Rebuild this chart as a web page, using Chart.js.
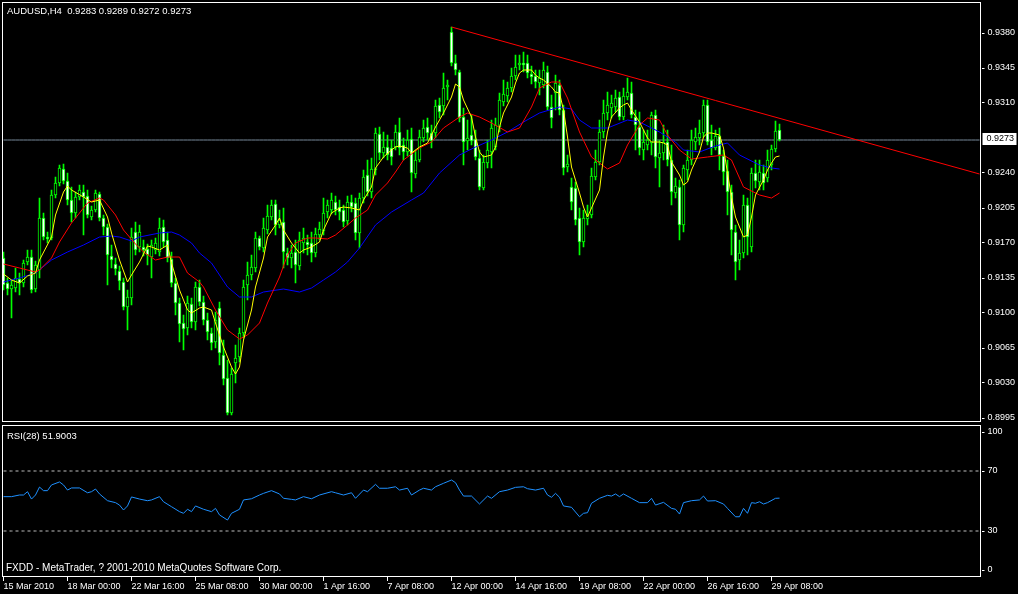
<!DOCTYPE html>
<html>
<head>
<meta charset="utf-8">
<script src="https://cdn.jsdelivr.net/npm/chart.js@4.4.1/dist/chart.umd.min.js"></script>
<style>
  html,body{margin:0;padding:0;background:#000;}
  #wrap{position:relative;width:1018px;height:594px;overflow:hidden;background:#000;
        font:10px "Liberation Sans",Arial,sans-serif;color:#fff}
  #priceCv{position:absolute;left:0;top:0}
  #rsiCv{position:absolute;left:0;top:422px}
  .lbl{position:absolute;left:7px;white-space:pre;line-height:12px}
</style>
</head>
<body>
<div id="wrap">
  <canvas id="priceCv" width="1018" height="424"></canvas>
  <canvas id="rsiCv" width="1018" height="172"></canvas>
  <div class="lbl" id="head" style="top:5px;font-size:9.5px"></div>
  <div class="lbl" id="rsiHead" style="top:430px;font-size:9.5px"></div>
  <div class="lbl" style="top:562px;left:6px">FXDD - MetaTrader, ? 2001-2010 MetaQuotes Software Corp.</div>
</div>
<script>
const symbol = 'AUDUSD,H4';
const slotCount = 245;     // 195 H4 bars + empty room on the right
const labelEvery = 16;     // bars between time labels
const timeLabels = ['15 Mar 2010','18 Mar 00:00','22 Mar 16:00','25 Mar 08:00','30 Mar 00:00',
  '1 Apr 16:00','7 Apr 08:00','12 Apr 00:00','14 Apr 16:00','19 Apr 08:00','22 Apr 00:00',
  '26 Apr 16:00','29 Apr 08:00'];
const priceTicks = [0.8995,0.9030,0.9065,0.9100,0.9135,0.9170,0.9205,0.9240,0.9310,0.9345,0.9380];

const opens = [
0.9155,0.9130,0.9124,0.9125,0.9134,0.9130,0.9151,0.9156,0.9124,0.9143,
0.9195,0.9176,0.9175,0.9218,0.9230,0.9244,0.9232,0.9213,0.9200,0.9216,
0.9221,0.9217,0.9196,0.9203,0.9219,0.9195,0.9186,0.9157,0.9149,0.9142,
0.9131,0.9106,0.9115,0.9181,0.9166,0.9166,0.9164,0.9156,0.9163,0.9161,
0.9186,0.9173,0.9154,0.9130,0.9110,0.9090,0.9085,0.9109,0.9091,0.9126,
0.9111,0.9093,0.9080,0.9071,0.9105,0.9058,0.9035,0.9000,0.9050,0.9056,
0.9080,0.9128,0.9138,0.9145,0.9175,0.9165,0.9183,0.9196,0.9209,0.9188,
0.9191,0.9160,0.9155,0.9161,0.9147,0.9170,0.9171,0.9170,0.9160,0.9178,
0.9182,0.9201,0.9203,0.9211,0.9206,0.9203,0.9192,0.9211,0.9210,0.9180,
0.9215,0.9238,0.9221,0.9243,0.9279,0.9260,0.9266,0.9265,0.9266,0.9281,
0.9268,0.9261,0.9274,0.9239,0.9253,0.9275,0.9286,0.9280,0.9280,0.9308,
0.9307,0.9326,0.9381,0.9350,0.9341,0.9296,0.9272,0.9278,0.9274,0.9255,
0.9225,0.9250,0.9261,0.9266,0.9286,0.9311,0.9317,0.9325,0.9337,0.9348,
0.9350,0.9350,0.9339,0.9337,0.9330,0.9328,0.9341,0.9306,0.9320,0.9328,
0.9303,0.9246,0.9226,0.9225,0.9195,0.9171,0.9194,0.9198,0.9236,0.9251,
0.9281,0.9300,0.9305,0.9306,0.9316,0.9296,0.9316,0.9320,0.9296,0.9286,
0.9263,0.9268,0.9270,0.9298,0.9255,0.9260,0.9271,0.9253,0.9220,0.9226,
0.9188,0.9243,0.9253,0.9271,0.9275,0.9280,0.9308,0.9273,0.9265,0.9277,
0.9257,0.9242,0.9221,0.9181,0.9153,0.9160,0.9208,0.9166,0.9240,0.9231,
0.9240,0.9235,0.9248,0.9264,0.9283];
const highs = [
0.9161,0.9135,0.9133,0.9145,0.9140,0.9153,0.9163,0.9163,0.9152,0.9215,
0.9200,0.9181,0.9223,0.9236,0.9248,0.9249,0.9240,0.9226,0.9221,0.9228,
0.9228,0.9223,0.9207,0.9223,0.9221,0.9198,0.9189,0.9168,0.9155,0.9147,
0.9135,0.9123,0.9185,0.9191,0.9188,0.9173,0.9169,0.9173,0.9175,0.9195,
0.9193,0.9181,0.9161,0.9135,0.9115,0.9098,0.9117,0.9115,0.9131,0.9133,
0.9117,0.9100,0.9085,0.9101,0.9111,0.9073,0.9053,0.9045,0.9068,0.9085,
0.9133,0.9151,0.9158,0.9181,0.9177,0.9195,0.9208,0.9213,0.9213,0.9203,
0.9205,0.9165,0.9168,0.9173,0.9181,0.9185,0.9178,0.9181,0.9185,0.9191,
0.9215,0.9213,0.9220,0.9217,0.9213,0.9208,0.9217,0.9218,0.9215,0.9220,
0.9243,0.9253,0.9255,0.9285,0.9286,0.9281,0.9278,0.9273,0.9288,0.9295,
0.9275,0.9283,0.9285,0.9263,0.9283,0.9293,0.9295,0.9288,0.9313,0.9315,
0.9340,0.9333,0.9386,0.9358,0.9343,0.9305,0.9293,0.9298,0.9283,0.9263,
0.9258,0.9273,0.9293,0.9295,0.9320,0.9333,0.9331,0.9345,0.9358,0.9358,
0.9361,0.9358,0.9347,0.9343,0.9343,0.9351,0.9347,0.9318,0.9338,0.9333,
0.9308,0.9258,0.9235,0.9231,0.9205,0.9203,0.9208,0.9245,0.9263,0.9293,
0.9313,0.9321,0.9318,0.9323,0.9321,0.9325,0.9335,0.9331,0.9303,0.9301,
0.9283,0.9283,0.9301,0.9303,0.9273,0.9288,0.9283,0.9268,0.9235,0.9233,
0.9248,0.9263,0.9283,0.9285,0.9293,0.9313,0.9313,0.9288,0.9283,0.9285,
0.9263,0.9253,0.9228,0.9188,0.9173,0.9218,0.9215,0.9245,0.9253,0.9253,
0.9248,0.9263,0.9268,0.9292,0.9289];
const lows = [
0.9123,0.9118,0.9095,0.9121,0.9118,0.9126,0.9148,0.9120,0.9121,0.9135,
0.9173,0.9170,0.9173,0.9215,0.9227,0.9229,0.9208,0.9191,0.9195,0.9213,
0.9178,0.9195,0.9193,0.9201,0.9192,0.9178,0.9128,0.9145,0.9138,0.9123,
0.9103,0.9083,0.9108,0.9158,0.9161,0.9157,0.9148,0.9135,0.9159,0.9157,
0.9166,0.9151,0.9126,0.9098,0.9071,0.9063,0.9078,0.9085,0.9083,0.9107,
0.9088,0.9073,0.9063,0.9065,0.9048,0.9028,0.8998,0.8998,0.9030,0.9051,
0.9075,0.9113,0.9133,0.9141,0.9163,0.9161,0.9179,0.9193,0.9178,0.9185,
0.9145,0.9148,0.9145,0.9130,0.9143,0.9160,0.9158,0.9151,0.9156,0.9173,
0.9178,0.9195,0.9199,0.9198,0.9193,0.9186,0.9188,0.9201,0.9173,0.9165,
0.9210,0.9217,0.9215,0.9238,0.9253,0.9255,0.9253,0.9248,0.9263,0.9258,
0.9253,0.9257,0.9221,0.9235,0.9251,0.9271,0.9273,0.9265,0.9275,0.9295,
0.9298,0.9313,0.9347,0.9338,0.9291,0.9248,0.9263,0.9268,0.9253,0.9223,
0.9223,0.9245,0.9245,0.9263,0.9281,0.9307,0.9311,0.9321,0.9333,0.9343,
0.9341,0.9335,0.9329,0.9325,0.9318,0.9325,0.9303,0.9285,0.9303,0.9298,
0.9238,0.9241,0.9203,0.9188,0.9158,0.9166,0.9188,0.9195,0.9233,0.9248,
0.9275,0.9293,0.9295,0.9301,0.9293,0.9293,0.9313,0.9295,0.9263,0.9258,
0.9253,0.9263,0.9258,0.9245,0.9226,0.9253,0.9247,0.9208,0.9215,0.9173,
0.9181,0.9233,0.9248,0.9263,0.9268,0.9276,0.9268,0.9258,0.9263,0.9243,
0.9228,0.9198,0.9158,0.9133,0.9143,0.9155,0.9158,0.9161,0.9225,0.9223,
0.9223,0.9231,0.9243,0.9261,0.9272];
const closes = [
0.9128,0.9124,0.9128,0.9135,0.9130,0.9150,0.9156,0.9123,0.9148,0.9195,
0.9176,0.9174,0.9218,0.9230,0.9245,0.9232,0.9213,0.9200,0.9216,0.9223,
0.9216,0.9198,0.9203,0.9220,0.9195,0.9186,0.9158,0.9153,0.9144,0.9132,
0.9106,0.9116,0.9176,0.9163,0.9181,0.9163,0.9158,0.9168,0.9170,0.9185,
0.9171,0.9155,0.9130,0.9110,0.9089,0.9084,0.9110,0.9091,0.9126,0.9111,
0.9093,0.9081,0.9070,0.9093,0.9060,0.9034,0.9000,0.9039,0.9055,0.9080,
0.9126,0.9138,0.9146,0.9175,0.9166,0.9185,0.9197,0.9208,0.9188,0.9193,
0.9161,0.9155,0.9160,0.9148,0.9173,0.9175,0.9168,0.9160,0.9179,0.9184,
0.9200,0.9208,0.9213,0.9203,0.9201,0.9191,0.9211,0.9206,0.9180,0.9215,
0.9236,0.9221,0.9244,0.9280,0.9260,0.9266,0.9258,0.9256,0.9281,0.9265,
0.9261,0.9273,0.9240,0.9253,0.9276,0.9285,0.9280,0.9272,0.9307,0.9301,
0.9325,0.9328,0.9350,0.9343,0.9295,0.9271,0.9275,0.9272,0.9256,0.9226,
0.9251,0.9263,0.9285,0.9288,0.9313,0.9319,0.9325,0.9337,0.9346,0.9350,
0.9348,0.9340,0.9336,0.9331,0.9335,0.9343,0.9306,0.9295,0.9330,0.9303,
0.9245,0.9249,0.9211,0.9193,0.9171,0.9195,0.9198,0.9237,0.9251,0.9281,
0.9300,0.9308,0.9310,0.9315,0.9296,0.9317,0.9321,0.9298,0.9288,0.9265,
0.9271,0.9273,0.9298,0.9256,0.9260,0.9271,0.9253,0.9221,0.9227,0.9188,
0.9245,0.9253,0.9273,0.9276,0.9280,0.9308,0.9271,0.9265,0.9277,0.9258,
0.9241,0.9221,0.9183,0.9151,0.9160,0.9208,0.9176,0.9240,0.9232,0.9241,
0.9230,0.9253,0.9264,0.9282,0.9273];

// moving averages at the bars listed in the *Idx arrays
const yellowIdx = [0,2,4,6,8,9,12,13,15,16,17,20,22,24,26,27,29,31,32,34,36,37,39,41,42,44,46,47,49,50,
  52,53,55,57,58,59,60,62,63,65,66,68,69,70,72,74,75,77,79,80,82,84,85,87,89,90,92,93,95,97,
  98,99,101,102,104,106,107,108,110,112,113,114,115,117,118,119,120,122,123,124,125,127,128,129,130,132,133,134,135,137,
  138,139,140,141,142,144,145,146,147,149,150,151,152,154,155,156,157,159,160,161,162,164,165,166,167,169,170,171,172,174,
  175,176,177,179,180,181,182,183,185,186,187,188,190,191,192,193,194];
const yellowVal = [
0.9139,0.9133,0.9130,0.9137,0.9140,0.9153,0.9176,0.9198,0.9221,0.9227,
0.9223,0.9216,0.9211,0.9213,0.9196,0.9180,0.9153,0.9131,0.9138,0.9151,
0.9167,0.9166,0.9163,0.9168,0.9150,0.9123,0.9103,0.9100,0.9105,0.9106,
0.9103,0.9090,0.9066,0.9046,0.9039,0.9046,0.9073,0.9103,0.9126,0.9155,
0.9176,0.9188,0.9195,0.9183,0.9170,0.9160,0.9163,0.9166,0.9171,0.9183,
0.9200,0.9205,0.9206,0.9205,0.9203,0.9213,0.9226,0.9245,0.9256,0.9263,
0.9266,0.9267,0.9265,0.9260,0.9266,0.9270,0.9278,0.9286,0.9300,0.9316,
0.9329,0.9326,0.9313,0.9296,0.9276,0.9261,0.9256,0.9258,0.9266,0.9286,
0.9300,0.9316,0.9330,0.9340,0.9343,0.9343,0.9338,0.9335,0.9333,0.9326,
0.9321,0.9320,0.9303,0.9276,0.9246,0.9220,0.9206,0.9196,0.9205,0.9223,
0.9256,0.9281,0.9296,0.9305,0.9308,0.9310,0.9303,0.9291,0.9283,0.9275,
0.9271,0.9271,0.9270,0.9268,0.9251,0.9238,0.9228,0.9231,0.9243,0.9261,
0.9276,0.9280,0.9280,0.9278,0.9265,0.9240,0.9216,0.9196,0.9176,0.9178,
0.9196,0.9218,0.9233,0.9243,0.9250,0.9256,0.9257];

const redIdx = [0,3,4,8,9,12,14,17,19,21,24,25,28,30,33,35,38,41,44,46,49,50,53,56,59,61,64,66,69,71,
  73,76,78,81,83,86,88,91,93,96,98,100,104,107,110,114,116,119,122,126,129,132,134,137,139,141,144,147,151,154,
  156,159,161,164,166,169,172,176,180,182,185,189,192,194];
const redVal = [
0.9149,0.9146,0.9145,0.9141,0.9143,0.9155,0.9171,0.9190,0.9200,0.9210,
0.9215,0.9213,0.9198,0.9183,0.9169,0.9161,0.9153,0.9156,0.9156,0.9140,
0.9131,0.9126,0.9103,0.9083,0.9074,0.9078,0.9090,0.9110,0.9136,0.9158,
0.9170,0.9175,0.9175,0.9174,0.9178,0.9188,0.9195,0.9203,0.9218,0.9230,
0.9241,0.9253,0.9265,0.9271,0.9285,0.9296,0.9300,0.9296,0.9290,0.9281,
0.9285,0.9306,0.9325,0.9331,0.9331,0.9315,0.9281,0.9256,0.9244,0.9250,
0.9268,0.9288,0.9295,0.9293,0.9278,0.9263,0.9254,0.9256,0.9258,0.9253,
0.9226,0.9218,0.9215,0.9220];

const blueIdx = [0,4,8,12,16,20,24,27,29,32,34,39,42,44,47,49,52,56,59,62,65,70,74,77,80,83,86,89,93,97,
  102,105,109,114,118,122,126,130,134,139,142,144,147,151,156,159,164,168,170,174,178,181,184,189,192,194];
const blueVal = [
0.9131,0.9135,0.9140,0.9153,0.9161,0.9168,0.9176,0.9177,0.9176,0.9172,
0.9176,0.9180,0.9181,0.9178,0.9170,0.9160,0.9150,0.9126,0.9116,0.9116,
0.9121,0.9124,0.9121,0.9125,0.9133,0.9141,0.9151,0.9165,0.9188,0.9201,
0.9213,0.9220,0.9240,0.9258,0.9266,0.9273,0.9281,0.9291,0.9300,0.9306,
0.9304,0.9293,0.9285,0.9285,0.9293,0.9291,0.9281,0.9271,0.9263,0.9261,
0.9267,0.9270,0.9258,0.9248,0.9245,0.9244];

const trendIdx = [112, 244];
const trendVal = [0.9386, 0.9239];

const rsiIdx = [0,2,4,5,6,7,8,9,10,11,12,14,15,16,17,19,21,22,23,24,26,28,29,30,31,32,34,36,37,39,
  40,42,44,45,46,47,48,50,52,53,54,56,57,59,60,62,64,65,67,69,70,72,73,75,77,79,82,83,85,87,
  88,90,91,93,94,96,98,99,101,102,104,105,107,108,110,112,113,114,115,117,119,121,122,124,126,128,130,131,133,135,
  136,137,138,139,140,142,144,145,146,147,149,151,152,153,154,155,157,159,161,162,163,165,167,168,169,170,172,174,175,176,
  178,180,181,183,184,185,186,187,188,189,190,191,193,194];
const rsiVal = [
52.9,52.9,54.0,54.0,56.2,51.3,54.0,59.3,56.9,56.9,60.7,62.7,60.7,57.3,58.7,58.7,55.5,56.2,58.0,54.7,
50.2,48.9,47.3,44.0,46.7,52.7,51.3,50.2,50.7,52.9,49.5,46.2,42.9,41.8,44.5,42.9,46.7,44.5,42.9,45.1,
40.7,37.3,41.8,44.5,50.7,51.5,54.0,55.1,56.9,54.7,51.8,51.1,50.7,52.9,51.5,54.0,56.2,55.5,54.0,55.5,
51.8,57.3,56.2,61.1,58.5,58.5,59.5,57.3,58.5,54.0,57.3,58.5,57.3,59.5,61.8,64.0,62.2,57.3,53.3,53.3,
48.0,53.3,51.8,56.2,57.3,59.1,59.5,58.2,57.3,58.5,54.0,52.5,55.1,52.5,46.7,45.8,39.5,41.8,42.2,48.5,
51.8,53.8,53.3,54.7,52.9,54.7,51.8,48.9,48.9,51.8,47.3,49.1,45.1,44.5,41.3,48.9,50.2,50.7,53.3,50.0,
50.2,48.0,45.1,39.5,39.5,45.1,41.8,48.9,48.5,49.5,48.0,48.9,51.8,51.9003];
const rsiLevels = [70, 30];
const rsiTicks = [0, 30, 70, 100];

/* ---------- helpers ---------- */
Chart.defaults.font.family = 'Liberation Sans';
Chart.defaults.font.size = 9;
Chart.defaults.color = '#fff';

const slots = Array.from({ length: slotCount }, (_, i) => i);
const sparse = (idx, val) => {
  const a = new Array(slotCount).fill(null);
  idx.forEach((i, k) => a[i] = val[k]);
  return a;
};
const last = a => a[a.length - 1];

document.getElementById('head').textContent =
  symbol + '  ' + [opens, highs, lows, closes].map(a => last(a).toFixed(4)).join(' ');
document.getElementById('rsiHead').textContent = 'RSI(28) ' + last(rsiVal).toFixed(4);

// keep scales from adding room for their end labels
const noPad = s => { s.paddingTop = 0; s.paddingBottom = 0; s.paddingLeft = 0; s.paddingRight = 0; };

// white frame round the plot area
const frame = (dTop, dBot) => ({
  id: 'frame',
  afterDraw(c) {
    const a = c.chartArea, ctx = c.ctx;
    ctx.save();
    ctx.strokeStyle = '#fff';
    ctx.lineWidth = 1;
    ctx.strokeRect(a.left + 1, a.top + dTop, a.right - a.left - 2, a.bottom - a.top - dTop + dBot);
    ctx.restore();
  }
});

// box with the last price on the price axis
const lastBox = {
  id: 'lastBox',
  afterDraw(c) {
    const v = last(closes);
    const y = Math.round(c.scales.y.getPixelForValue(v));
    const x = c.chartArea.right + 1;
    const ctx = c.ctx;
    ctx.save();
    ctx.fillStyle = '#fff';
    ctx.fillRect(x, y - 7, 34, 12);
    ctx.fillStyle = '#000';
    ctx.font = '9px "Liberation Sans"';
    ctx.textBaseline = 'middle';
    ctx.fillText(v.toFixed(4), x + 4, y - 1);
    ctx.restore();
  }
};

const line = (data, color, order, extra) => Object.assign({
  type: 'line', data, borderColor: color, borderWidth: 1, pointRadius: 0,
  spanGaps: true, tension: 0, order
}, extra || {});

/* ---------- price panel ---------- */
new Chart(document.getElementById('priceCv'), {
  type: 'bar',
  data: {
    labels: slots,
    datasets: [
      line(sparse(trendIdx, trendVal), '#ff0000', 0),
      line(sparse(yellowIdx, yellowVal), '#ffff00', 1),
      line(sparse(redIdx, redVal), '#ff0000', 2),
      line(sparse(blueIdx, blueVal), '#0000ff', 3),
      {
        data: opens.map((o, i) => [o, closes[i]]),
        backgroundColor: opens.map((o, i) => closes[i] > o ? '#000000' : '#ffffff'),
        borderColor: '#00ff00', borderWidth: 1, borderSkipped: false,
        barThickness: 3, grouped: false, order: 4
      },
      {
        data: opens.map((o, i) => [lows[i], highs[i]]),
        backgroundColor: '#00ff00', borderWidth: 0,
        barThickness: 1, grouped: false, order: 5
      },
      line(slots.map(() => last(closes)), '#778899', 6)
    ]
  },
  options: {
    responsive: false, animation: false, events: [],
    layout: { padding: { left: 1.5, top: 2, right: 0, bottom: 2 }, autoPadding: false },
    plugins: { legend: { display: false }, tooltip: { enabled: false } },
    scales: {
      x: { type: 'category', display: false, offset: true, afterFit: noPad },
      y: {
        position: 'right', min: 0.8991, max: 0.9411,
        afterBuildTicks: s => { s.ticks = priceTicks.map(v => ({ value: v })); },
        afterFit: s => { s.width = 36.5; noPad(s); },
        grid: { drawOnChartArea: false, color: '#fff', tickLength: 3 },
        border: { display: false },
        ticks: { padding: 3, callback: v => v.toFixed(4) }
      }
    }
  },
  plugins: [frame(0.5, -0.5), lastBox]
});

/* ---------- RSI panel ---------- */
new Chart(document.getElementById('rsiCv'), {
  type: 'line',
  data: {
    labels: slots,
    datasets: [
      line(sparse(rsiIdx, rsiVal), '#1e90ff', 0),
      ...rsiLevels.map((lv, k) => line(slots.map(() => lv), '#c0c0c0', 1 + k, { borderDash: [3, 3] }))
    ]
  },
  options: {
    responsive: false, animation: false, events: [],
    layout: { padding: { left: 1.5, top: 4, right: 0, bottom: 0 }, autoPadding: false },
    plugins: { legend: { display: false }, tooltip: { enabled: false } },
    scales: {
      x: {
        type: 'category', offset: true,
        afterFit: s => { s.height = 18; noPad(s); },
        grid: { drawOnChartArea: false, offset: false, color: '#fff', tickLength: 5 },
        border: { display: false },
        ticks: {
          autoSkip: false, maxRotation: 0, minRotation: 0, align: 'start', padding: 0, labelOffset: 0,
          callback: (v, i) => i % labelEvery === 0 ? timeLabels[i / labelEvery] : null
        }
      },
      y: {
        position: 'right', min: 0, max: 100,
        // the terminal keeps the 0 and 100 labels inside the panel
        afterBuildTicks: s => { s.ticks = rsiTicks.map(v => ({ value: Math.min(96, Math.max(4, v)) })); },
        afterFit: s => { s.width = 36.5; noPad(s); },
        grid: { drawOnChartArea: false, color: '#fff', tickLength: 3 },
        border: { display: false },
        ticks: { padding: 3, callback: (v, i) => String(rsiTicks[i]) }
      }
    }
  },
  plugins: [frame(-0.5, 0.5)]
});
</script>
</body>
</html>
